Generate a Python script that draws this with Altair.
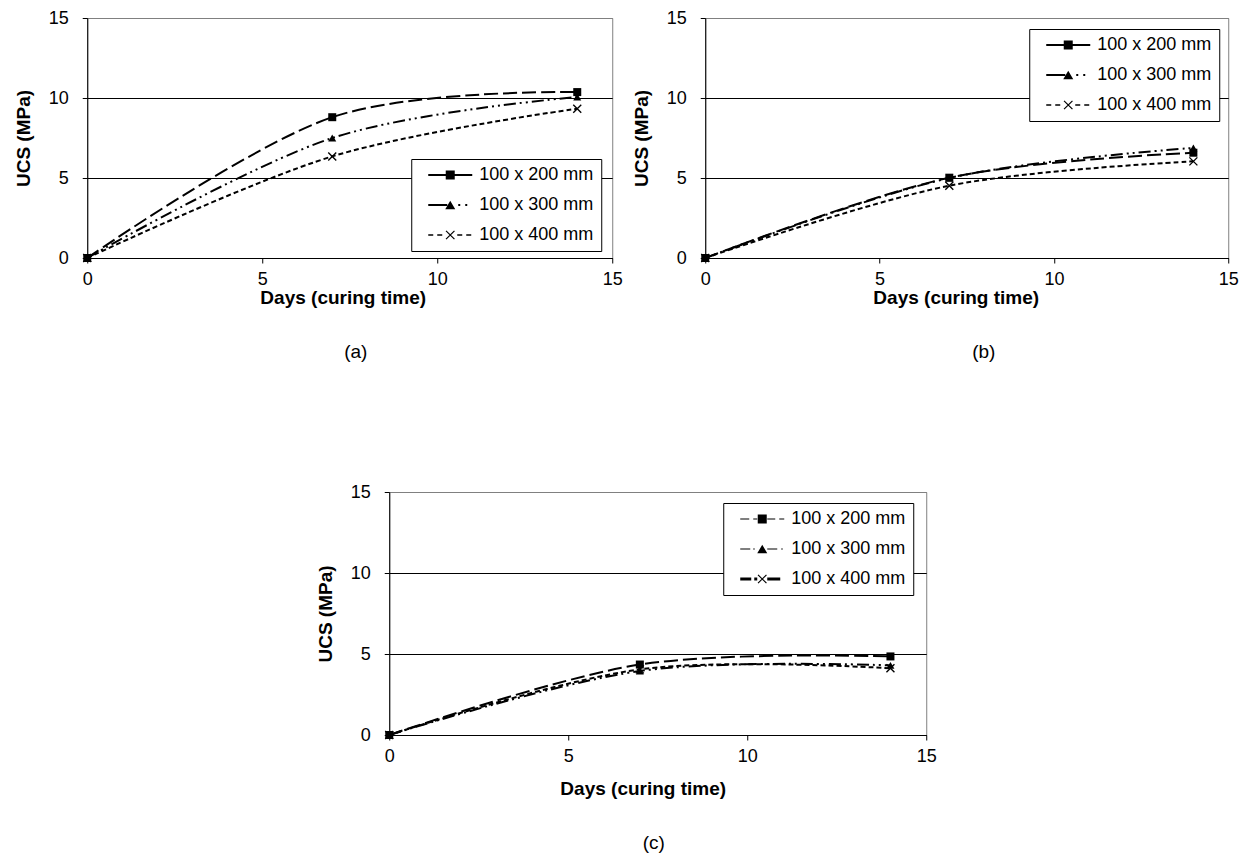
import math
import altair as alt
import pandas as pd

# ---------------- data ----------------
days = [0, 7, 14]
series_names = ["100 x 200 mm", "100 x 300 mm", "100 x 400 mm"]

a_200 = [0, 8.8, 10.37]
a_300 = [0, 7.5, 10.06]
a_400 = [0, 6.35, 9.33]

b_200 = [0, 5.02, 6.58]
b_300 = [0, 5.0, 6.88]
b_400 = [0, 4.52, 6.04]

c_200 = [0, 4.35, 4.85]
c_300 = [0, 3.95, 4.3]
c_400 = [0, 4.05, 4.12]

ticks = [0, 5, 10, 15]
captions = ["(a)", "(b)", "(c)"]

FONT = "Liberation Sans"
SYM = 16.0  # legend symbol nominal width in px (unit = SYM/2)


def frame(v200, v300, v400):
    rows = []
    for name, vals in zip(series_names, [v200, v300, v400]):
        for d, v in zip(days, vals):
            rows.append({"day": d, "ucs": v, "series": name})
    return pd.DataFrame(rows)


# ---------------- symbol paths (style only) ----------------
def fmt(v):
    return f"{v:.4f}".rstrip("0").rstrip(".")


def rect(x0, x1, y0, y1, u):
    return f"M{fmt(x0/u)},{fmt(y0/u)}L{fmt(x1/u)},{fmt(y0/u)}L{fmt(x1/u)},{fmt(y1/u)}L{fmt(x0/u)},{fmt(y1/u)}Z"


def xmark(r, t, u):
    d = t / math.sqrt(2)
    p1 = [(-r + d, -r - d), (r + d, r - d), (r - d, r + d), (-r - d, -r + d)]
    p2 = [(-r + d, r + d), (-r - d, r - d), (r - d, -r - d), (r + d, -r + d)]
    out = ""
    for poly in (p1, p2):
        out += "M" + "L".join(f"{fmt(px/u)},{fmt(py/u)}" for px, py in poly) + "Z"
    return out


def square(hs, u):
    return rect(-hs, hs, -hs, hs, u)


def triangle(r, u):
    h = math.sqrt(3) / 2 * r
    return f"M0,{fmt(-h/u)}L{fmt(r/u)},{fmt(h/u)}L{fmt(-r/u)},{fmt(h/u)}Z"


def legend_path(segs, ht, marker, u=SYM / 2):
    p = "".join(rect(a, b, -ht, ht, u) for a, b in segs)
    if marker == "square":
        p += square(4.5, u)
    elif marker == "triangle":
        p += triangle(5.0, u)
    else:
        p += xmark(4.2, 0.6, u)
    return p


XP = xmark(1.0, 0.17, 1.0)
point_shapes = ["square", "triangle-up", XP]

legend_ab = [
    legend_path([(-22, -3), (3, 22)], 1.0, "square"),
    legend_path([(-22, -3), (8, 10), (15, 17)], 1.0, "triangle"),
    legend_path([(-22, -17), (-13, -8), (7, 12), (16, 21)], 0.8, "x"),
]
legend_c = [
    legend_path([(-22, -13), (-9, -5), (5, 13), (17, 22)], 0.5, "square"),
    legend_path([(-22, -12), (-9, -7.5), (5, 15), (19, 20.5)], 0.5, "triangle"),
    legend_path([(-22, -11), (-8, -5), (5, 18)], 1.5, "x"),
]

dash_ab = [[14, 5], [12, 4, 2, 4, 2, 4], [5, 3]]
width_ab = [2, 2, 1.8]
dash_c = [[6, 4], [8, 3, 2, 3], [8, 4]]
width_c = [1, 1, 3]


def panel(df, dashes, widths, leg_paths, leg_x, leg_y, w, h, caption, cap_dx, x_title_dx, x_title_pad):
    x = alt.X("day:Q", scale=alt.Scale(domain=[0, 15], nice=False, zero=False),
              axis=alt.Axis(values=ticks, title="Days (curing time)", grid=False, labelFlush=False,
                            tickSize=5, labelPadding=7, titlePadding=x_title_pad,
                            titleX=w / 2 + x_title_dx))
    y = alt.Y("ucs:Q", scale=alt.Scale(domain=[0, 15], nice=False),
              axis=alt.Axis(values=ticks, title="UCS (MPa)", grid=True, labelFlush=False,
                            gridColor={"condition": {"test": "datum.value === 15", "value": "#808080"},
                                       "value": "black"},
                            tickSize=5, labelPadding=14, titlePadding=15))
    base = alt.Chart(df)
    lines = base.mark_line(interpolate="cardinal", color="black").encode(
        x=x, y=y,
        strokeDash=alt.StrokeDash("series:N", scale=alt.Scale(domain=series_names, range=dashes), legend=None),
        strokeWidth=alt.StrokeWidth("series:N", scale=alt.Scale(domain=series_names, range=widths), legend=None),
    )
    pts = base.mark_point(filled=True, color="black", opacity=1, size=64).encode(
        x=x, y=y,
        shape=alt.Shape("series:N", scale=alt.Scale(domain=series_names, range=point_shapes), legend=None),
    )
    leg = base.transform_filter("datum.day < 0").mark_point(filled=True, color="black", opacity=1).encode(
        x=x, y=y,
        shape=alt.Shape("series:N", scale=alt.Scale(domain=series_names, range=leg_paths),
                        legend=alt.Legend(orient="none", legendX=leg_x, legendY=leg_y, title=None,
                                          labelFont=FONT, labelFontSize=18, labelColor="black",
                                          symbolSize=SYM * SYM, symbolStrokeWidth=0,
                                          symbolFillColor="black", padding=7, rowPadding=12,
                                          strokeColor="black", fillColor="white",
                                          labelOffset=20, symbolOffset=23, labelLimit=300)),
    )
    return alt.layer(lines, pts, leg).resolve_scale(shape="independent").properties(
        width=w, height=h,
        title=alt.TitleParams(caption, orient="bottom", offset=36, dx=cap_dx, fontSize=19,
                              fontWeight="normal", font=FONT, color="black"),
    )


pa = panel(frame(a_200, a_300, a_400), dash_ab, width_ab, legend_ab, 324, 141, 525, 240,
           captions[0], 6, -7, 0)
pb = panel(frame(b_200, b_300, b_400), dash_ab, width_ab, legend_ab, 324, 11, 523, 240,
           captions[1], 17, -11, 0)
pc = panel(frame(c_200, c_300, c_400), dash_c, width_c, legend_c, 334, 11, 537, 243,
           captions[2], -4, -15, 14)

chart = alt.vconcat(alt.hconcat(pa, pb, spacing=8), pc, spacing=119, center=True).properties(
    padding={"left": 5, "top": 0, "right": 0, "bottom": 0}
).configure(font=FONT).configure_view(stroke="#808080", strokeWidth=1).configure_axis(
    domainColor="black", tickColor="black", labelColor="black", titleColor="black",
    labelFont=FONT, titleFont=FONT, labelFontSize=18, titleFontSize=19, titleFontWeight="bold",
    domainWidth=1, gridWidth=1, tickWidth=1,
)

chart.save("out.html", embed_options={"renderer": "svg", "actions": False})
